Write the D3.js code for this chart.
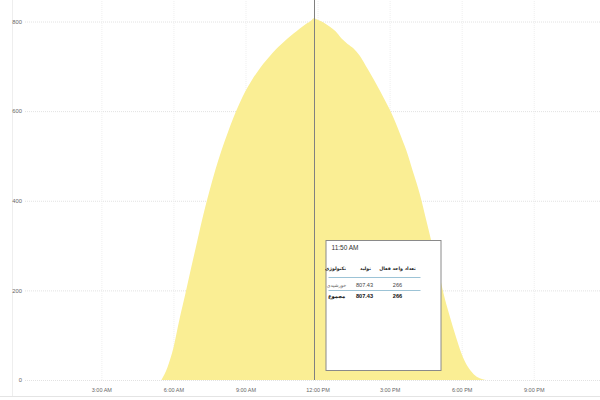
<!DOCTYPE html>
<html>
<head>
<meta charset="utf-8">
<script src="https://cdn.jsdelivr.net/npm/d3@7"></script>
<style>
  body { margin: 0; background: #fff; }
  .tick text { font-family: "Liberation Sans", Arial, sans-serif; fill: #666; }
  .fa { font-family: "DejaVu Sans", sans-serif; direction: rtl; }
</style>
</head>
<body>
<div id="chart"></div>
<script>

// production over the day, 15 minute steps
const times = ["05:30","05:45","06:00","06:15","06:30","06:45","07:00","07:15","07:30","07:45",
  "08:00","08:15","08:30","08:45","09:00","09:15","09:30","09:45","10:00","10:15",
  "10:30","10:45","11:00","11:15","11:30","11:45","11:50","12:00","12:15","12:30",
  "12:45","13:00","13:15","13:30","13:45","14:00","14:15","14:30","14:45","15:00",
  "15:15","15:30","15:45","16:00","16:15","16:30","16:45","17:00","17:15","17:30",
  "17:45","18:00","18:15","18:30","18:45","19:00"];
const production = [0,28,72,135,193,253,312,370,422,470,
  512,550,586,617,645,668,688,706,722,737,
  750,762,773,784,794,803,807.43,804,798,789,
  778,762,750,740,724,702,679,655,630,604,
  574,540,504,460,416,362,307,252,192,143,
  98,58,30,13,4,0];

const yTicks = [0, 200, 400, 600, 800];
const xTickHours = [3, 6, 9, 12, 15, 18, 21];

// tooltip
const cursorTime = "11:50";
const tooltipTitle = "11:50 AM";
const tooltipHeaders = ["تکنولوژی", "تولید", "تعداد واحد فعال"];
const tooltipRows = [["خورشیدی", "807.43", "266"], ["مجموع", "807.43", "266"]];

const width = 600, height = 400;
const day = new Date(2020, 0, 1);
const parseTime = d3.timeParse("%H:%M");
function toDate(s) {
  const t = parseTime(s);
  return new Date(2020, 0, 1, t.getHours(), t.getMinutes());
}

const svg = d3.select("#chart")
  .append("svg")
  .attr("width", width)
  .attr("height", height);

const x = d3.scaleTime()
  .domain([day, d3.timeDay.offset(day, 1)])
  .range([29.3, 605.8]);

const y = d3.scaleLinear()
  .domain([0, 800])
  .range([380, 21.5]);

// frame lines
svg.append("line")
  .attr("x1", 12.5).attr("x2", 12.5).attr("y1", 0).attr("y2", 397)
  .attr("stroke", "#eeeeee");
svg.append("line")
  .attr("x1", 0).attr("x2", width).attr("y1", 396.5).attr("y2", 396.5)
  .attr("stroke", "#e4e4e4");

// horizontal grid + y labels
const yAxis = d3.axisLeft(y)
  .tickValues(yTicks)
  .tickSize(-(width - 25))
  .tickPadding(3);
svg.append("g")
  .attr("transform", "translate(25,0)")
  .call(yAxis)
  .call(g => g.select(".domain").remove())
  .call(g => g.selectAll(".tick line")
    .attr("stroke", "#e2e2e2")
    .attr("stroke-dasharray", "1,1"))
  .call(g => g.selectAll(".tick text")
    .attr("font-size", 5.8));

// vertical grid + x labels
const xTicks = xTickHours.map(h => d3.timeHour.offset(day, h));
const xAxis = d3.axisBottom(x)
  .tickValues(xTicks)
  .tickFormat(d3.timeFormat("%-I:%M %p"))
  .tickSize(-380)
  .tickPadding(8);
svg.append("g")
  .attr("transform", "translate(0,380)")
  .call(xAxis)
  .call(g => g.select(".domain").remove())
  .call(g => g.selectAll(".tick line")
    .attr("stroke", "#efefef")
    .attr("stroke-dasharray", "1,1"))
  .call(g => g.selectAll(".tick text")
    .attr("font-size", 5.5));

// area
const series = times.map((t, i) => ({ date: toDate(t), value: production[i] }));
const area = d3.area()
  .x(d => x(d.date))
  .y0(y(0))
  .y1(d => y(d.value))
  .curve(d3.curveMonotoneX);

svg.append("path")
  .datum(series)
  .attr("fill", "#faee94")
  .attr("d", area);

// cursor line
const cx = Math.round(x(toDate(cursorTime))) + 0.5;
svg.append("line")
  .attr("x1", cx).attr("x2", cx)
  .attr("y1", 0).attr("y2", 380)
  .attr("stroke", "#808080")
  .attr("stroke-width", 1);

// tooltip box
const tip = svg.append("g")
  .attr("transform", "translate(" + (cx + 11) + ",240)");

tip.append("rect")
  .attr("x", 0.5).attr("y", 0.5)
  .attr("width", 115).attr("height", 130)
  .attr("fill", "#fff")
  .attr("stroke", "#8a8a8a");

tip.append("text")
  .attr("x", 6).attr("y", 10)
  .attr("font-family", "Liberation Sans, Arial, sans-serif")
  .attr("font-size", 6.5)
  .attr("fill", "#333")
  .text(tooltipTitle);

const colX = [10, 40, 72];   // centre of each column

tip.selectAll("text.head")
  .data(tooltipHeaders)
  .enter().append("text")
  .attr("class", "head fa")
  .attr("x", (d, i) => colX[i])
  .attr("y", 30)
  .attr("text-anchor", "middle")
  .attr("font-size", 4.7)
  .attr("font-weight", "bold")
  .attr("fill", "#222")
  .text(d => d);

tip.selectAll("line.sep")
  .data([37.5, 50.5])
  .enter().append("line")
  .attr("class", "sep")
  .attr("x1", 3).attr("x2", 95)
  .attr("y1", d => d).attr("y2", d => d)
  .attr("stroke", "#9cc3d6")
  .attr("stroke-width", 1);

tooltipRows.forEach((row, r) => {
  tip.selectAll("text.row" + r)
    .data(row)
    .enter().append("text")
    .attr("class", (d, i) => "row" + r + (i === 0 ? " fa" : ""))
    .attr("x", (d, i) => [11, 39, 72][i])
    .attr("y", 47 + r * 11)
    .attr("text-anchor", "middle")
    .attr("font-family", (d, i) => i === 0 ? "DejaVu Sans, sans-serif" : "Liberation Sans, Arial, sans-serif")
    .attr("font-size", (d, i) => i === 0 ? (r === 0 ? 4.8 : 5.2) : 5.6)
    .attr("font-weight", r === 1 ? "bold" : "normal")
    .attr("fill", (d, i) => r === 1 ? "#111" : (i === 0 ? "#666" : "#444"))
    .text(d => d);
});

</script>
</body>
</html>
